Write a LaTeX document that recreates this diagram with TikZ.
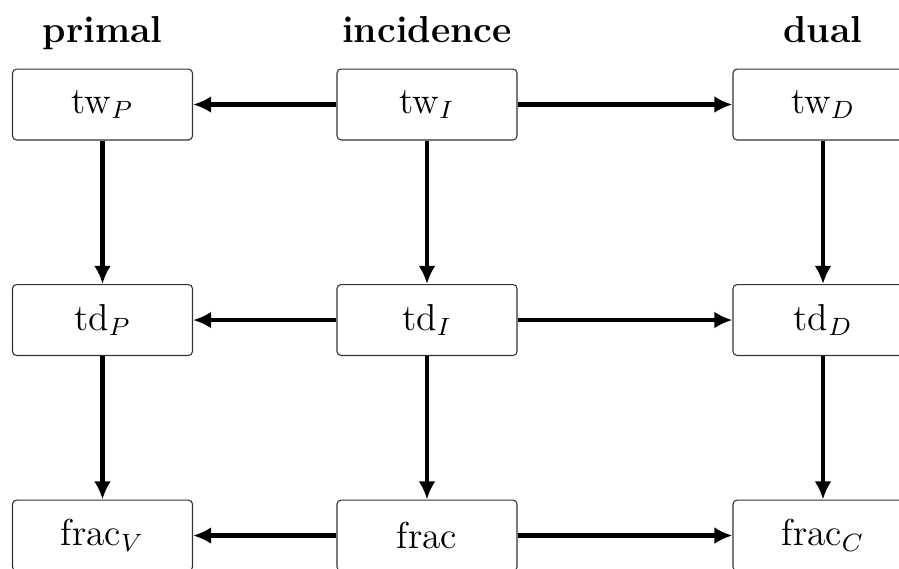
\documentclass[tikz,border=0pt]{standalone}
\usepackage{xcolor}
\usepackage{tikz}
\usetikzlibrary{arrows.meta}

\begin{document}
\begin{tikzpicture}[x=0.32pt,y=-0.32pt,every node/.style={shape=rectangle,align=center},
    box/.style={draw=black!80,line width=0.35pt,rounded corners=1.3pt,minimum width=57.6pt,minimum height=22.7pt,font=\large},
    head/.style={anchor=base,font=\large\bfseries},
    link/.style={line width=1.3pt,-{Latex[length=5.8pt,width=5.4pt]}}]
      \useasboundingbox (0,0) rectangle (899,568);
      % column titles
      \node[head] (hP) at (102.5,42) {primal};
      \node[head] (hI) at (427,42) {incidence};
      \node[head] (hD) at (823,42) {dual};
      % boxes
      \node[box] (twP) at (102.5,104.5) {tw$_P$};
      \node[box] (twI) at (427,104.5) {tw$_I$};
      \node[box] (twD) at (823,104.5) {tw$_D$};
      \node[box] (tdP) at (102.5,320) {td$_P$};
      \node[box] (tdI) at (427,320) {td$_I$};
      \node[box] (tdD) at (823,320) {td$_D$};
      \node[box] (frV) at (102.5,535.5) {frac$_V$};
      \node[box] (fr) at (427,535.5) {frac};
      \node[box] (frC) at (823,535.5) {frac$_C$};
      % arrows
      \draw[link] (twI) -- (twP); \draw[link] (twI) -- (twD);
      \draw[link] (tdI) -- (tdP); \draw[link] (tdI) -- (tdD);
      \draw[link] (fr) -- (frV); \draw[link] (fr) -- (frC);
      \draw[link] (twP) -- (tdP); \draw[link] (tdP) -- (frV);
      \draw[link] (twI) -- (tdI); \draw[link] (tdI) -- (fr);
      \draw[link] (twD) -- (tdD); \draw[link] (tdD) -- (frC);
\end{tikzpicture}
\end{document}
